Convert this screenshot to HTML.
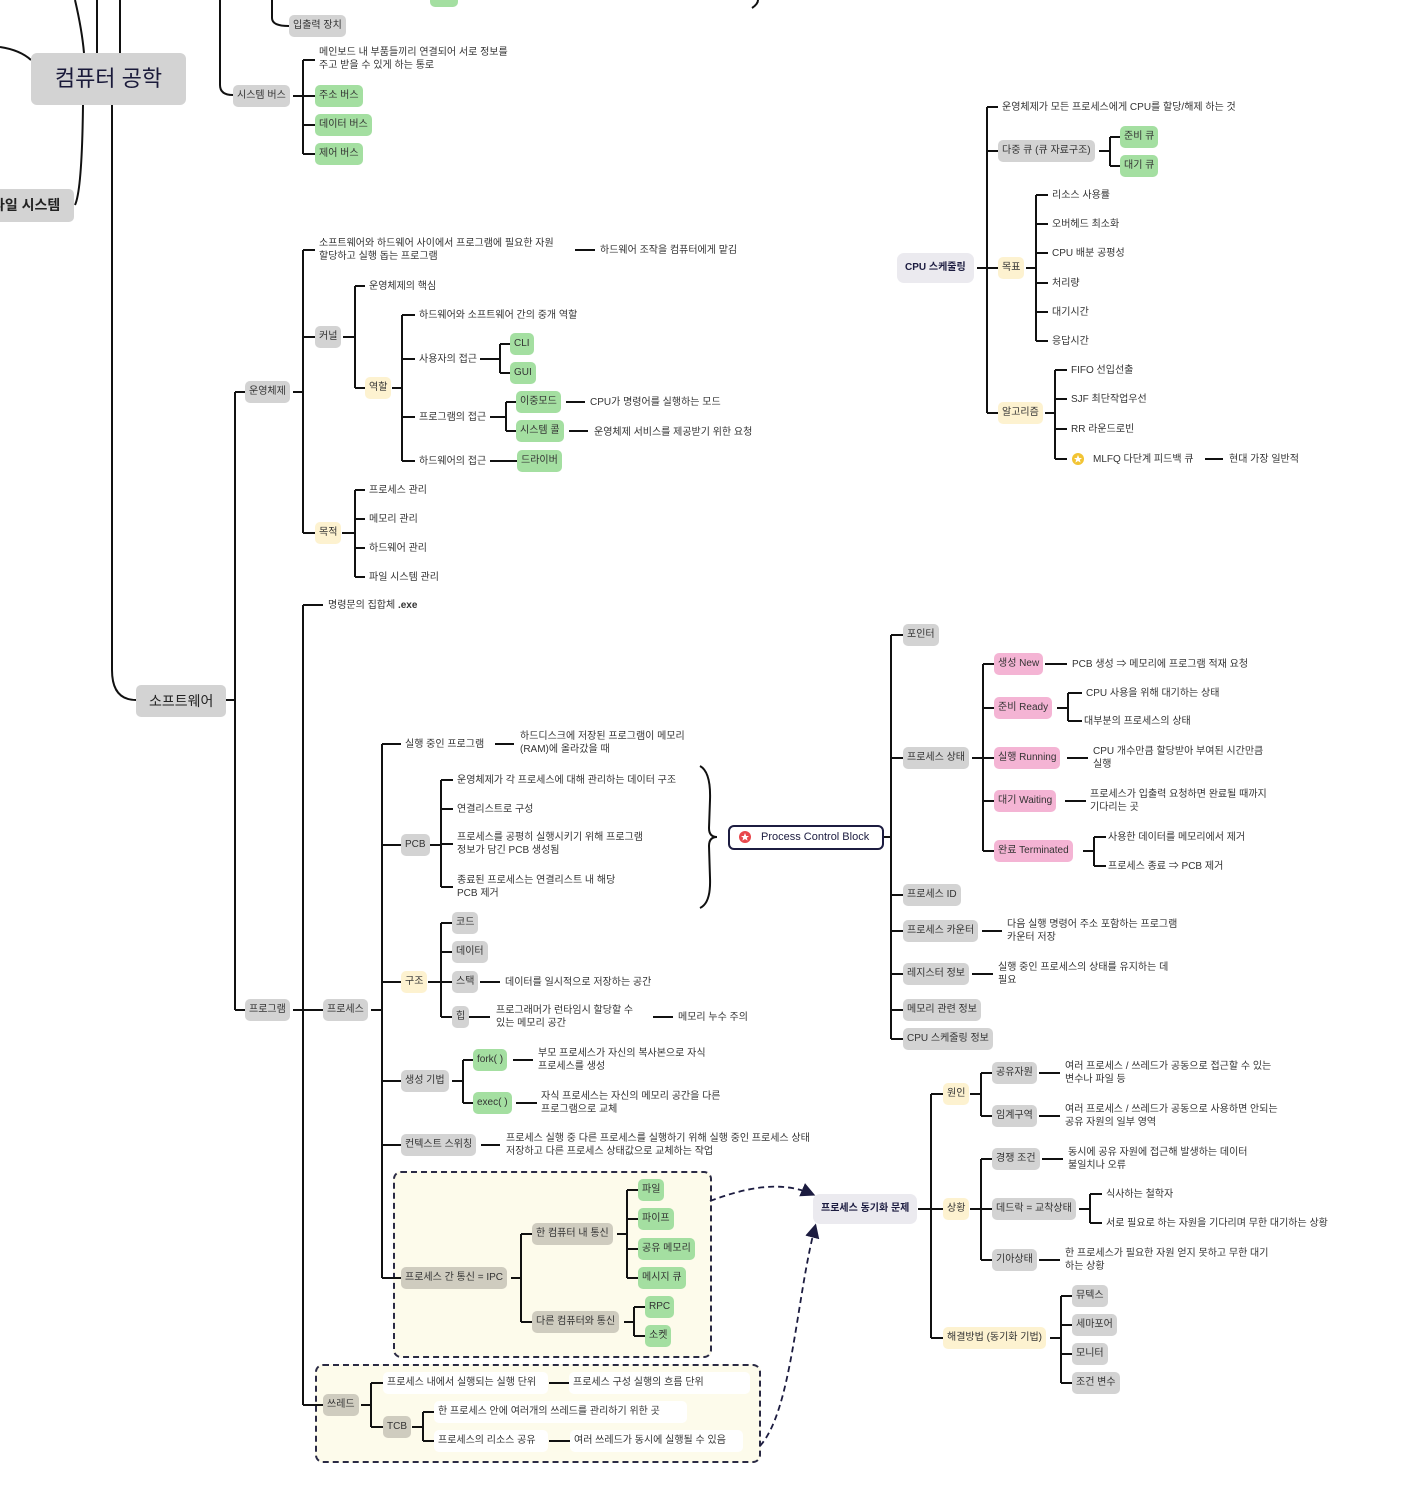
<!DOCTYPE html>
<html><head><meta charset="utf-8">
<style>
html,body{margin:0;padding:0;background:#fff;}
body{width:1408px;height:1496px;position:relative;overflow:hidden;font-family:"Liberation Sans","Noto Sans CJK KR",sans-serif;}
.n{position:absolute;height:22px;line-height:22px;padding:0 4px;border-radius:5px;font-size:10px;color:#333;white-space:nowrap}
.g{background:#d3d3d3}.gr{background:#a4dfa1}.y{background:#fdf2d0}.p{background:#f4b4d4}.b{background:#cfccbf}.w{background:#fff}
.l{background:#ebeaef;color:#1c1c40;font-weight:bold;height:30px;line-height:30px;padding:0 8px;border-radius:7px}
.t{position:absolute;font-size:10px;line-height:13px;color:#333;white-space:nowrap}
.box{position:absolute;border:2px dashed #2a2a44;border-radius:8px;background:#fdfbeb}
svg{position:absolute;left:0;top:0}
</style></head><body>
<div class="box" style="left:393px;top:1171px;width:315px;height:183px"></div>
<div class="box" style="left:315px;top:1364px;width:442px;height:95px"></div>

<svg width="1408" height="1496" viewBox="0 0 1408 1496">
<defs><marker id="ar" markerWidth="8" markerHeight="8" refX="6" refY="4" orient="auto"><path d="M0,0 L8,4 L0,8 Z" fill="#1c1c40"/></marker></defs>
<g fill="none" stroke="#111" stroke-width="2">
<path d="M0,47 Q20,50 31,60"/>
<path d="M75,0 Q82,30 84,53"/>
<path d="M97,0 V53"/><path d="M120,0 V53"/>
<path d="M83,105 Q82,190 75,205"/>
<path d="M112,105 V670 Q112,700 136,700"/>
<path d="M220,0 V85 Q220,95 233,95"/>
<path d="M272,0 V18 Q272,26 289,26"/>
<path d="M752,8 Q758,4 758,0"/>
<path d="M224,700 H235 M235,392 V1010 M235,392 H245 M235,1010 H245"/>
<path d="M293,96 H303 M303,60 V154 M303,60 H315 M303,96 H315 M303,125 H315 M303,154 H315"/>
<path d="M293,392 H303 M303,250 V533 M303,250 H315 M303,337 H315 M303,533 H315"/>
<path d="M343,337 H355 M355,286 V388 M355,286 H365 M355,388 H365"/>
<path d="M392,388 H402 M402,315 V461 M402,315 H415 M402,359 H415 M402,417 H415 M402,461 H415"/>
<path d="M480,359 H500 M500,344 V373 M500,344 H510 M500,373 H510"/>
<path d="M490,417 H506 M506,402 V431 M506,402 H516 M506,431 H516"/>
<path d="M490,461 H517 M566,402 H585 M569,431 H588 M575,250 H595"/>
<path d="M342,533 H355 M355,490 V577 M355,490 H365 M355,519 H365 M355,548 H365 M355,577 H365"/>
<path d="M293,1010 H303 M303,605 V1405 M303,605 H323 M303,1010 H323 M303,1405 H323"/>
<path d="M371,1010 H382 M382,744 V1278 M382,744 H401 M382,845 H401 M382,982 H401 M382,1081 H401 M382,1145 H401 M382,1278 H401"/>
<path d="M495,744 H514"/>
<path d="M430,845 H441 M441,780 V887 M441,780 H453 M441,809 H453 M441,844 H453 M441,887 H453"/>
<path d="M428,982 H441 M441,923 V1017 M441,923 H452 M441,952 H452 M441,982 H452 M441,1017 H452"/>
<path d="M480,982 H500 M469,1017 H490 M653,1017 H673"/>
<path d="M452,1081 H463 M463,1060 V1103 M463,1060 H473 M463,1103 H473 M513,1060 H533 M516,1103 H537"/>
<path d="M481,1145 H500"/>
<path d="M511,1278 H521 M521,1234 V1322 M521,1234 H532 M521,1322 H532"/>
<path d="M617,1234 H627 M627,1190 V1278 M627,1190 H638 M627,1219 H638 M627,1249 H638 M627,1278 H638"/>
<path d="M624,1322 H634 M634,1307 V1336 M634,1307 H645 M634,1336 H645"/>
<path d="M361,1405 H371 M371,1383 V1427 M371,1383 H383 M371,1427 H383"/>
<path d="M412,1427 H423 M423,1412 V1441 M423,1412 H434 M423,1441 H434"/>
<path d="M549,1383 H569 M549,1441 H570"/>
<path d="M700,766 Q711,772 710,800 L709,828 Q709,837 717,837 Q709,837 709,846 L710,878 Q711,903 700,908"/>
<path d="M881,837 H891 M891,635 V1039 M891,635 H903 M891,758 H903 M891,895 H903 M891,931 H903 M891,974 H903 M891,1010 H903 M891,1039 H903"/>
<path d="M972,758 H983 M983,664 V851 M983,664 H994 M983,708 H994 M983,758 H994 M983,801 H994 M983,851 H994"/>
<path d="M1045,664 H1067 M1057,708 H1068 M1068,693 V721 M1068,693 H1082 M1068,721 H1082 M1067,758 H1088 M1065,801 H1086"/>
<path d="M1083,851 H1094 M1094,837 V866 M1094,837 H1106 M1094,866 H1106"/>
<path d="M982,931 H1002 M972,974 H993"/>
<path d="M977,268 H987 M987,107 V413 M987,107 H998 M987,151 H998 M987,268 H998 M987,413 H998"/>
<path d="M1099,151 H1110 M1110,137 V166 M1110,137 H1120 M1110,166 H1120"/>
<path d="M1026,268 H1036 M1036,195 V341 M1036,195 H1048 M1036,224 H1048 M1036,253 H1048 M1036,283 H1048 M1036,312 H1048 M1036,341 H1048"/>
<path d="M1045,413 H1055 M1055,370 V459 M1055,370 H1067 M1055,399 H1067 M1055,429 H1067 M1055,459 H1067 M1205,459 H1223"/>
<path d="M918,1209 H931 M931,1094 V1338 M931,1094 H943 M931,1209 H943 M931,1338 H943"/>
<path d="M970,1094 H981 M981,1073 V1116 M981,1073 H992 M981,1116 H992 M1039,1073 H1060 M1039,1116 H1060"/>
<path d="M970,1209 H981 M981,1159 V1260 M981,1159 H992 M981,1209 H992 M981,1260 H992 M1042,1159 H1063 M1039,1260 H1060"/>
<path d="M1079,1209 H1090 M1090,1194 V1223 M1090,1194 H1102 M1090,1223 H1102"/>
<path d="M1050,1338 H1061 M1061,1296 V1383 M1061,1296 H1072 M1061,1325 H1072 M1061,1354 H1072 M1061,1383 H1072"/>
</g>
<g fill="none" stroke="#1c1c40" stroke-width="1.8" stroke-dasharray="6,4">
<path d="M710,1201 C745,1188 780,1180 812,1194" marker-end="url(#ar)"/>
<path d="M760,1446 C792,1410 796,1300 815,1227" marker-end="url(#ar)"/>
</g>
<circle cx="1078" cy="459" r="6" fill="#f2c434"/>
<path d="M1078,455 L1079.2,458 L1082,458 L1079.8,459.8 L1080.6,462.6 L1078,461 L1075.4,462.6 L1076.2,459.8 L1074,458 L1076.8,458 Z" fill="#fff"/>
</svg>

<div class="n g" style="left:31px;top:53px;width:139px;height:52px;line-height:52px;font-size:22px;color:#1a1a3a;text-align:center;padding:0 8px;border-radius:6px">컴퓨터 공학</div>
<div class="n g" style="left:-8px;top:189px;height:33px;line-height:33px;font-size:14px;color:#222;padding:0 14px 0 0;font-weight:bold">파일 시스템</div>
<div class="n g" style="left:136px;top:685px;height:32px;line-height:32px;font-size:14px;color:#222;padding:0 13px">소프트웨어</div>
<div class="n gr" style="left:430px;top:-15px;width:20px"></div>
<div class="n g" style="left:289px;top:15px">입출력 장치</div>
<div class="n g" style="left:233px;top:85px">시스템 버스</div>
<div class="t" style="left:319px;top:46px">메인보드 내 부품들끼리 연결되어 서로 정보를<br>주고 받을 수 있게 하는 통로</div>
<div class="n gr" style="left:315px;top:85px">주소 버스</div>
<div class="n gr" style="left:315px;top:114px">데이터 버스</div>
<div class="n gr" style="left:315px;top:143px">제어 버스</div>

<div class="n g" style="left:245px;top:381px">운영체제</div>
<div class="t" style="left:319px;top:237px">소프트웨어와 하드웨어 사이에서 프로그램에 필요한 자원<br>할당하고 실행 돕는 프로그램</div>
<div class="t" style="left:600px;top:244px">하드웨어 조작을 컴퓨터에게 맡김</div>
<div class="n g" style="left:315px;top:326px">커널</div>
<div class="t" style="left:369px;top:280px">운영체제의 핵심</div>
<div class="n y" style="left:365px;top:377px">역할</div>
<div class="t" style="left:419px;top:309px">하드웨어와 소프트웨어 간의 중개 역할</div>
<div class="t" style="left:419px;top:353px">사용자의 접근</div>
<div class="n gr" style="left:510px;top:333px">CLI</div>
<div class="n gr" style="left:510px;top:362px">GUI</div>
<div class="t" style="left:419px;top:411px">프로그램의 접근</div>
<div class="n gr" style="left:516px;top:391px">이중모드</div>
<div class="t" style="left:590px;top:396px">CPU가 명령어를 실행하는 모드</div>
<div class="n gr" style="left:516px;top:420px">시스템 콜</div>
<div class="t" style="left:594px;top:426px">운영체제 서비스를 제공받기 위한 요청</div>
<div class="t" style="left:419px;top:455px">하드웨어의 접근</div>
<div class="n gr" style="left:517px;top:450px">드라이버</div>
<div class="n y" style="left:315px;top:522px">목적</div>
<div class="t" style="left:369px;top:484px">프로세스 관리</div>
<div class="t" style="left:369px;top:513px">메모리 관리</div>
<div class="t" style="left:369px;top:542px">하드웨어 관리</div>
<div class="t" style="left:369px;top:571px">파일 시스템 관리</div>

<div class="t" style="left:328px;top:599px">명령문의 집합체 <b>.exe</b></div>
<div class="n g" style="left:245px;top:999px">프로그램</div>
<div class="n g" style="left:323px;top:999px">프로세스</div>
<div class="t" style="left:405px;top:738px">실행 중인 프로그램</div>
<div class="t" style="left:520px;top:730px">하드디스크에 저장된 프로그램이 메모리<br>(RAM)에 올라갔을 때</div>
<div class="n g" style="left:401px;top:834px">PCB</div>
<div class="t" style="left:457px;top:774px">운영체제가 각 프로세스에 대해 관리하는 데이터 구조</div>
<div class="t" style="left:457px;top:803px">연결리스트로 구성</div>
<div class="t" style="left:457px;top:831px">프로세스를 공평히 실행시키기 위해 프로그램<br>정보가 담긴 PCB 생성됨</div>
<div class="t" style="left:457px;top:874px">종료된 프로세스는 연결리스트 내 해당<br>PCB 제거</div>
<div class="n y" style="left:401px;top:971px">구조</div>
<div class="n g" style="left:452px;top:912px">코드</div>
<div class="n g" style="left:452px;top:941px">데이터</div>
<div class="n g" style="left:452px;top:971px">스택</div>
<div class="t" style="left:505px;top:976px">데이터를 일시적으로 저장하는 공간</div>
<div class="n g" style="left:452px;top:1006px">힙</div>
<div class="t" style="left:496px;top:1004px">프로그래머가 런타임시 할당할 수<br>있는 메모리 공간</div>
<div class="t" style="left:678px;top:1011px">메모리 누수 주의</div>
<div class="n g" style="left:401px;top:1070px">생성 기법</div>
<div class="n gr" style="left:473px;top:1049px">fork( )</div>
<div class="t" style="left:538px;top:1047px">부모 프로세스가 자신의 복사본으로 자식<br>프로세스를 생성</div>
<div class="n gr" style="left:473px;top:1092px">exec( )</div>
<div class="t" style="left:541px;top:1090px">자식 프로세스는 자신의 메모리 공간을 다른<br>프로그램으로 교체</div>
<div class="n g" style="left:401px;top:1134px">컨텍스트 스위칭</div>
<div class="t" style="left:506px;top:1132px">프로세스 실행 중 다른 프로세스를 실행하기 위해 실행 중인 프로세스 상태<br>저장하고 다른 프로세스 상태값으로 교체하는 작업</div>
<div class="n b" style="left:401px;top:1267px">프로세스 간 통신 = IPC</div>
<div class="n b" style="left:532px;top:1223px">한 컴퓨터 내 통신</div>
<div class="n gr" style="left:638px;top:1179px">파일</div>
<div class="n gr" style="left:638px;top:1208px">파이프</div>
<div class="n gr" style="left:638px;top:1238px">공유 메모리</div>
<div class="n gr" style="left:638px;top:1267px">메시지 큐</div>
<div class="n b" style="left:532px;top:1311px">다른 컴퓨터와 통신</div>
<div class="n gr" style="left:645px;top:1296px">RPC</div>
<div class="n gr" style="left:645px;top:1325px">소켓</div>
<div class="n b" style="left:323px;top:1394px">쓰레드</div>
<div class="n w" style="left:383px;top:1372px;width:157px">프로세스 내에서 실행되는 실행 단위</div>
<div class="n w" style="left:569px;top:1372px;width:173px">프로세스 구성 실행의 흐름 단위</div>
<div class="n b" style="left:383px;top:1416px">TCB</div>
<div class="n w" style="left:434px;top:1401px;width:245px">한 프로세스 안에 여러개의 쓰레드를 관리하기 위한 곳</div>
<div class="n w" style="left:434px;top:1430px;width:106px">프로세스의 리소스 공유</div>
<div class="n w" style="left:570px;top:1430px;width:165px">여러 쓰레드가 동시에 실행될 수 있음</div>

<div class="n" style="left:728px;top:825px;height:21px;line-height:21px;border:2px solid #1c1c40;border-radius:6px;background:#fff;color:#1c1c40;font-size:11px;padding:0 9px 0 31px;width:112px">Process Control Block</div>
<svg width="20" height="20" viewBox="735 827 20 20" style="left:735px;top:827px">
<circle cx="745" cy="837" r="6" fill="#e8474c"/>
<path d="M745,833 L746.2,836 L749,836 L746.8,837.8 L747.6,840.6 L745,839 L742.4,840.6 L743.2,837.8 L741,836 L743.8,836 Z" fill="#fff"/>
</svg>
<div class="n g" style="left:903px;top:624px">포인터</div>
<div class="n g" style="left:903px;top:747px">프로세스 상태</div>
<div class="n p" style="left:994px;top:653px">생성 New</div>
<div class="t" style="left:1072px;top:658px">PCB 생성 ⇒ 메모리에 프로그램 적재 요청</div>
<div class="n p" style="left:994px;top:697px">준비 Ready</div>
<div class="t" style="left:1086px;top:687px">CPU 사용을 위해 대기하는 상태</div>
<div class="t" style="left:1084px;top:715px">대부분의 프로세스의 상태</div>
<div class="n p" style="left:994px;top:747px">실행 Running</div>
<div class="t" style="left:1093px;top:745px">CPU 개수만큼 할당받아 부여된 시간만큼<br>실행</div>
<div class="n p" style="left:994px;top:790px">대기 Waiting</div>
<div class="t" style="left:1090px;top:788px">프로세스가 입출력 요청하면 완료될 때까지<br>기다리는 곳</div>
<div class="n p" style="left:994px;top:840px">완료 Terminated</div>
<div class="t" style="left:1108px;top:831px">사용한 데이터를 메모리에서 제거</div>
<div class="t" style="left:1108px;top:860px">프로세스 종료 ⇒ PCB 제거</div>
<div class="n g" style="left:903px;top:884px">프로세스 ID</div>
<div class="n g" style="left:903px;top:920px">프로세스 카운터</div>
<div class="t" style="left:1007px;top:918px">다음 실행 명령어 주소 포함하는 프로그램<br>카운터 저장</div>
<div class="n g" style="left:903px;top:963px">레지스터 정보</div>
<div class="t" style="left:998px;top:961px">실행 중인 프로세스의 상태를 유지하는 데<br>필요</div>
<div class="n g" style="left:903px;top:999px">메모리 관련 정보</div>
<div class="n g" style="left:903px;top:1028px">CPU 스케줄링 정보</div>

<div class="n l" style="left:897px;top:253px">CPU 스케줄링</div>
<div class="t" style="left:1002px;top:101px">운영체제가 모든 프로세스에게 CPU를 할당/해제 하는 것</div>
<div class="n g" style="left:998px;top:140px">다중 큐 (큐 자료구조)</div>
<div class="n gr" style="left:1120px;top:126px">준비 큐</div>
<div class="n gr" style="left:1120px;top:155px">대기 큐</div>
<div class="n y" style="left:998px;top:257px">목표</div>
<div class="t" style="left:1052px;top:189px">리소스 사용률</div>
<div class="t" style="left:1052px;top:218px">오버헤드 최소화</div>
<div class="t" style="left:1052px;top:247px">CPU 배분 공평성</div>
<div class="t" style="left:1052px;top:277px">처리량</div>
<div class="t" style="left:1052px;top:306px">대기시간</div>
<div class="t" style="left:1052px;top:335px">응답시간</div>
<div class="n y" style="left:998px;top:402px">알고리즘</div>
<div class="t" style="left:1071px;top:364px">FIFO 선입선출</div>
<div class="t" style="left:1071px;top:393px">SJF 최단작업우선</div>
<div class="t" style="left:1071px;top:423px">RR 라운드로빈</div>
<div class="t" style="left:1093px;top:453px">MLFQ 다단계 피드백 큐</div>
<div class="t" style="left:1229px;top:453px">현대 가장 일반적</div>

<div class="n l" style="left:813px;top:1194px">프로세스 동기화 문제</div>
<div class="n y" style="left:943px;top:1083px">원인</div>
<div class="n g" style="left:992px;top:1062px">공유자원</div>
<div class="t" style="left:1065px;top:1060px">여러 프로세스 / 쓰레드가 공동으로 접근할 수 있는<br>변수나 파일 등</div>
<div class="n g" style="left:992px;top:1105px">임계구역</div>
<div class="t" style="left:1065px;top:1103px">여러 프로세스 / 쓰레드가 공동으로 사용하면 안되는<br>공유 자원의 일부 영역</div>
<div class="n y" style="left:943px;top:1198px">상황</div>
<div class="n g" style="left:992px;top:1148px">경쟁 조건</div>
<div class="t" style="left:1068px;top:1146px">동시에 공유 자원에 접근해 발생하는 데이터<br>불일치나 오류</div>
<div class="n g" style="left:992px;top:1198px">데드락 = 교착상태</div>
<div class="t" style="left:1106px;top:1188px">식사하는 철학자</div>
<div class="t" style="left:1106px;top:1217px">서로 필요로 하는 자원을 기다리며 무한 대기하는 상황</div>
<div class="n g" style="left:992px;top:1249px">기아상태</div>
<div class="t" style="left:1065px;top:1247px">한 프로세스가 필요한 자원 얻지 못하고 무한 대기<br>하는 상황</div>
<div class="n y" style="left:943px;top:1327px">해결방법 (동기화 기법)</div>
<div class="n g" style="left:1072px;top:1285px">뮤텍스</div>
<div class="n g" style="left:1072px;top:1314px">세마포어</div>
<div class="n g" style="left:1072px;top:1343px">모니터</div>
<div class="n g" style="left:1072px;top:1372px">조건 변수</div>
</body></html>
